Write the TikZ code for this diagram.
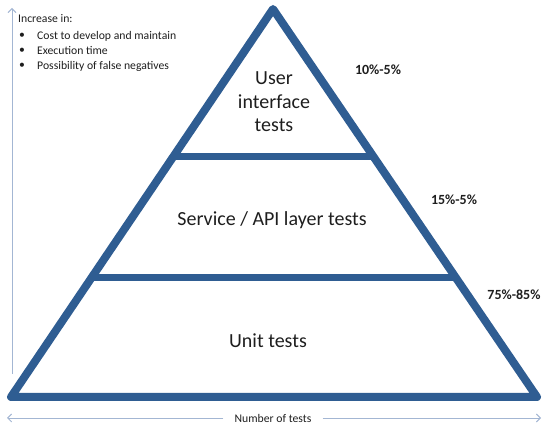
\documentclass[tikz,border=0pt]{standalone}
\usepackage{fontspec}
\setmainfont{Carlito}
\usetikzlibrary{arrows.meta,calc}
\definecolor{pyrBlue}{HTML}{2F5D92}
\definecolor{pyrLight}{HTML}{A3B6D3}
\definecolor{pyrText}{HTML}{1E1E1E}
\tikzset{
  pyr edge/.style={draw=pyrBlue, line width=8pt, line join=round},
  pyr bar/.style={draw=pyrBlue, line width=7pt},
  pyr axis/.style={draw=pyrLight, line width=0.9pt, -{Straight Barb[length=4pt,width=8pt]}},
  pyr label/.style={font=\fontsize{20}{23.5}\selectfont, text=pyrText, align=center},
  pyr share/.style={font=\fontsize{14}{16}\selectfont\bfseries, text=pyrText},
  pyr note/.style={font=\fontsize{11.7}{14}\selectfont, text=pyrText, anchor=west, inner sep=0pt},
}

\begin{document}
\begin{tikzpicture}[x=1pt,y=-1pt]
  \useasboundingbox (0,0) rectangle (547,427);
  % pyramid outline
  \coordinate (apex) at (273,9);
  \coordinate (bl) at (11,397);
  \coordinate (br) at (537,397);
  \draw[pyr edge] (bl) -- (apex) -- (br) -- cycle;
  \draw[pyr bar] ($(apex)!0.379!(bl)$) -- ($(apex)!0.379!(br)$);
  \draw[pyr bar] ($(apex)!0.691!(bl)$) -- ($(apex)!0.691!(br)$);

  % layers
  \node[pyr label] (ui) at (274,102) {User\\interface\\tests};
  \node[pyr label] (api) at (272,220) {Service / API layer tests};
  \node[pyr label] (unit) at (268,341) {Unit tests};

  \node[pyr share] (ui share) at (378,70) {10\%-5\%};
  \node[pyr share] (api share) at (454,200) {15\%-5\%};
  \node[pyr share] (unit share) at (514,295) {75\%-85\%};

  % notes
  \node[pyr note] (incr) at (18,19) {Increase in:};
  \foreach \y/\t [count=\i] in {36/Cost to develop and maintain,51/Execution time,66/Possibility of false negatives}{
    \node[pyr note] (dot\i) at (19,\y) {\textbullet};
    \node[pyr note] (item\i) at (37,\y) {\t};
  }

  % axes
  \coordinate (y base) at (12,374);
  \coordinate (y top) at (12,8);
  \draw[pyr axis] (y base) -- (y top);
  \node[font=\fontsize{11.7}{14}\selectfont, text=pyrText, inner xsep=11pt] (count) at (273,418) {Number of tests};
  \coordinate (x left) at (7,418);
  \coordinate (x right) at (541,418);
  \draw[pyr axis] (count) -- (x left);
  \draw[pyr axis] (count) -- (x right);
\end{tikzpicture}
\end{document}
